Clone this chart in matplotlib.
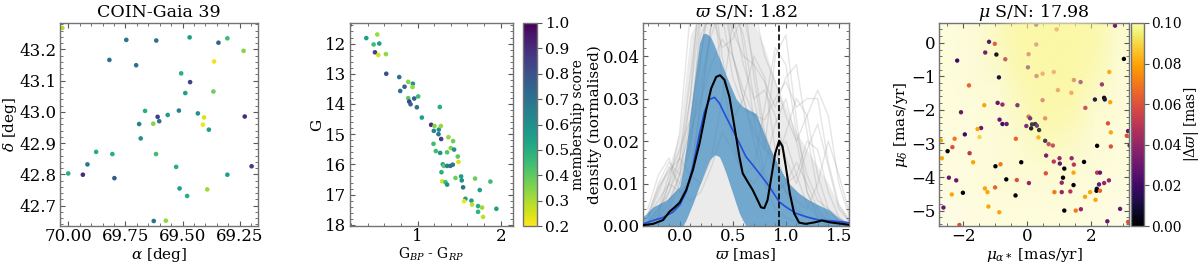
import numpy as np
import matplotlib
matplotlib.use("Agg")
import matplotlib.pyplot as plt
from matplotlib.ticker import AutoMinorLocator, FormatStrFormatter, MultipleLocator

# ---------------- data ----------------
# panel 1: sky positions of members + membership score
ra = [70.026, 69.746, 69.615, 69.469, 69.343, 69.304, 69.233, 69.820, 69.703, 69.362,
      69.506, 69.467, 69.488, 69.365, 69.664, 69.516, 69.565, 69.433, 69.406, 69.609,
      69.602, 69.628, 69.690, 69.411, 69.385, 69.228, 69.683, 69.878, 69.807, 69.616,
      69.916, 70.000, 69.936, 69.798, 69.528, 69.198, 69.304, 69.513, 69.480, 69.392,
      69.626, 69.573]
dec = [43.268, 43.230, 43.228, 43.238, 43.221, 43.235, 43.195, 43.166, 43.149, 43.161,
       43.123, 43.095, 43.060, 43.065, 43.003, 43.004, 42.990, 42.995, 42.982, 42.984,
       42.970, 42.962, 42.961, 42.959, 42.943, 42.985, 42.915, 42.872, 42.865, 42.865,
       42.832, 42.803, 42.799, 42.788, 42.824, 42.826, 42.799, 42.755, 42.731, 42.752,
       42.651, 42.652]
score_sky = [0.30, 0.70, 0.70, 0.55, 0.75, 0.45, 0.35, 0.70, 0.70, 0.22,
             0.50, 0.85, 0.55, 0.38, 0.50, 0.65, 0.55, 0.60, 0.25, 0.85,
             0.70, 0.35, 0.65, 0.22, 0.55, 0.90, 0.60, 0.50, 0.50, 0.45,
             0.68, 0.50, 0.90, 0.78, 0.50, 0.85, 0.55, 0.55, 0.50, 0.32,
             0.70, 0.33]

# panel 2: colour-magnitude diagram
bp_rp = [0.384, 0.516, 0.472, 0.540, 0.488, 0.528, 0.620, 0.624, 0.780, 0.844,
         0.792, 0.888, 0.944, 0.940, 1.008, 0.888, 0.900, 0.916, 0.960, 0.992,
         1.268, 1.052, 1.164, 1.196, 1.204, 1.256, 1.280, 1.252, 1.284, 1.372,
         1.428, 1.400, 1.440, 1.192, 1.220, 1.272, 1.356, 1.484, 1.492, 1.304,
         1.316, 1.356, 1.396, 1.424, 1.288, 1.524, 1.532, 1.456, 1.296, 1.336,
         1.356, 1.548, 1.692, 1.876, 1.748, 1.576, 1.560, 1.648, 1.656, 1.728,
         1.728, 1.776, 1.788, 1.948]
gmag = [11.82, 11.70, 12.03, 12.00, 12.29, 12.38, 12.35, 13.00, 13.11, 13.43,
        13.57, 13.27, 13.33, 13.44, 13.75, 13.81, 13.92, 14.01, 13.82, 14.11,
        14.10, 14.45, 14.69, 14.89, 14.73, 14.85, 14.73, 15.00, 15.16, 15.10,
        15.23, 15.46, 15.51, 15.32, 15.56, 15.62, 15.60, 15.74, 15.92, 16.00,
        16.05, 16.05, 16.05, 16.01, 16.26, 16.40, 16.53, 16.45, 16.56, 16.59,
        16.67, 16.76, 16.47, 16.57, 16.85, 17.14, 17.22, 17.20, 17.33, 17.38,
        17.57, 17.43, 17.74, 17.47]
score_cmd = [0.55, 0.32, 0.45, 0.55, 0.85, 0.25, 0.33, 0.80, 0.70, 0.75,
             0.70, 0.35, 0.60, 0.33, 0.45, 0.40, 0.85, 0.75, 0.75, 0.70,
             0.50, 0.55, 0.90, 0.65, 0.35, 0.60, 0.33, 0.68, 0.85, 0.33,
             0.38, 0.35, 0.60, 0.45, 0.45, 0.60, 0.42, 0.40, 0.25, 0.55,
             0.40, 0.65, 0.70, 0.68, 0.50, 0.55, 0.60, 0.38, 0.25, 0.45,
             0.60, 0.70, 0.38, 0.45, 0.55, 0.55, 0.22, 0.55, 0.28, 0.50,
             0.48, 0.32, 0.28, 0.55]

# panel 3: parallax density
plx_obs_x = [-0.344, -0.25, -0.156, -0.094, -0.047, 0.0, 0.0625, 0.125, 0.1875, 0.25,
             0.297, 0.344, 0.381, 0.422, 0.469, 0.516, 0.5625, 0.594, 0.641, 0.6875,
             0.734, 0.766, 0.797, 0.828, 0.859, 0.90, 0.9375, 0.969, 1.0, 1.0375,
             1.078, 1.125, 1.1875, 1.28, 1.34, 1.406, 1.5, 1.59]
plx_obs_y = [0.0002, 0.0005, 0.0014, 0.0034, 0.0044, 0.0055, 0.0085, 0.0132, 0.0195, 0.0273,
             0.0324, 0.0351, 0.0355, 0.0344, 0.0304, 0.0234, 0.0163, 0.0124, 0.0104, 0.0085,
             0.0061, 0.0044, 0.0042, 0.0061, 0.0108, 0.0171, 0.0201, 0.0187, 0.0140, 0.0077,
             0.0030, 0.0008, 0.0005, 0.0009, 0.0013, 0.0009, 0.0006, 0.0003]
plx_mean_x = [-0.344, -0.25, -0.156, -0.0625, 0.0, 0.0625, 0.125, 0.1875, 0.234, 0.281,
              0.328, 0.375, 0.4375, 0.5, 0.5625, 0.625, 0.6875, 0.75, 0.8125, 0.875,
              0.9375, 1.0, 1.094, 1.1875, 1.3125, 1.4375, 1.59]
plx_mean_y = [0.0005, 0.0013, 0.0020, 0.0033, 0.0049, 0.0081, 0.0140, 0.0218, 0.0269, 0.0298,
              0.0303, 0.0289, 0.0257, 0.0226, 0.0195, 0.0163, 0.0144, 0.0124, 0.0104, 0.0081,
              0.0057, 0.0045, 0.0030, 0.0022, 0.0014, 0.0012, 0.0008]
band_x = [-0.344, -0.25, -0.125, 0.0, 0.031, 0.0625, 0.125, 0.1875, 0.219, 0.25,
          0.281, 0.297, 0.328, 0.344, 0.375, 0.406, 0.4375, 0.469, 0.5, 0.531,
          0.5625, 0.594, 0.625, 0.656, 0.719, 0.781, 0.844, 0.906, 0.969, 1.031,
          1.125, 1.219, 1.3125, 1.406, 1.5, 1.59]
band_hi = [0.0022, 0.0045, 0.0061, 0.0093, 0.0130, 0.0187, 0.0312, 0.0430, 0.0453, 0.0453,
           0.0448, 0.0442, 0.0425, 0.0414, 0.0395, 0.0375, 0.0355, 0.0336, 0.0318, 0.0300,
           0.0290, 0.0281, 0.0277, 0.0273, 0.0265, 0.0226, 0.0187, 0.0155, 0.0124, 0.0100,
           0.0077, 0.0061, 0.0049, 0.0038, 0.0018, 0.0008]
band_lo = [0.0, 0.0, 0.0, 0.0, 0.0, 0.0015, 0.0053, 0.0095, 0.0116, 0.0136,
           0.0155, 0.0160, 0.0167, 0.0167, 0.0163, 0.0145, 0.0124, 0.0100, 0.0077, 0.0053,
           0.0030, 0.0014, 0.0, 0.0, 0.0, 0.0, 0.0, 0.0, 0.0, 0.0,
           0.0, 0.0, 0.0, 0.0, 0.0, 0.0]
plx_cluster = 0.94

# bootstrap densities (grey), sampled on a 0.1 mas grid
boot_x = [-0.3, -0.2, -0.1, 0.0, 0.1, 0.2, 0.3, 0.4, 0.5, 0.6,
          0.7, 0.8, 0.9, 1.0, 1.1, 1.2, 1.3, 1.4, 1.5, 1.6]
boot_haze = [0.003, 0.010, 0.014, 0.022, 0.045, 0.050, 0.050, 0.050, 0.050, 0.050,
             0.048, 0.042, 0.034, 0.028, 0.022, 0.018, 0.014, 0.010, 0.005, 0.002]
boot_curves = [
    [0.002, 0.008, 0.014, 0.010, 0.018, 0.040, 0.060, 0.055, 0.040, 0.030, 0.020, 0.010, 0.004, 0.002, 0.001, 0, 0, 0, 0, 0],
    [0.001, 0.004, 0.008, 0.016, 0.035, 0.055, 0.065, 0.050, 0.035, 0.028, 0.026, 0.022, 0.015, 0.008, 0.004, 0.002, 0.001, 0, 0, 0],
    [0, 0.002, 0.006, 0.012, 0.025, 0.045, 0.050, 0.048, 0.052, 0.045, 0.030, 0.018, 0.016, 0.020, 0.012, 0.005, 0.002, 0.001, 0, 0],
    [0.004, 0.012, 0.016, 0.008, 0.010, 0.030, 0.048, 0.060, 0.058, 0.042, 0.025, 0.012, 0.008, 0.010, 0.015, 0.010, 0.004, 0.001, 0, 0],
    [0, 0.001, 0.004, 0.010, 0.020, 0.034, 0.045, 0.052, 0.046, 0.040, 0.038, 0.034, 0.028, 0.035, 0.038, 0.022, 0.008, 0.002, 0, 0],
    [0.001, 0.003, 0.010, 0.022, 0.050, 0.070, 0.058, 0.035, 0.020, 0.012, 0.010, 0.014, 0.024, 0.030, 0.020, 0.008, 0.003, 0.001, 0, 0],
    [0, 0.002, 0.008, 0.014, 0.022, 0.030, 0.038, 0.044, 0.040, 0.032, 0.026, 0.025, 0.030, 0.034, 0.028, 0.030, 0.030, 0.015, 0.005, 0.001],
    [0.002, 0.010, 0.015, 0.012, 0.020, 0.050, 0.060, 0.040, 0.025, 0.030, 0.040, 0.035, 0.018, 0.010, 0.012, 0.020, 0.018, 0.008, 0.002, 0],
    [0, 0.002, 0.005, 0.012, 0.030, 0.060, 0.075, 0.060, 0.040, 0.030, 0.022, 0.018, 0.040, 0.045, 0.025, 0.008, 0.002, 0, 0, 0],
    [0.001, 0.004, 0.012, 0.018, 0.025, 0.040, 0.055, 0.060, 0.050, 0.038, 0.030, 0.032, 0.026, 0.016, 0.010, 0.018, 0.024, 0.014, 0.004, 0.001],
    [0, 0.001, 0.003, 0.006, 0.012, 0.028, 0.048, 0.065, 0.070, 0.055, 0.035, 0.020, 0.012, 0.008, 0.006, 0.004, 0.010, 0.020, 0.012, 0.003],
    [0.003, 0.009, 0.013, 0.016, 0.030, 0.052, 0.050, 0.042, 0.044, 0.050, 0.038, 0.022, 0.014, 0.022, 0.030, 0.026, 0.012, 0.004, 0.001, 0],
    [0, 0.003, 0.010, 0.016, 0.012, 0.010, 0.016, 0.030, 0.048, 0.058, 0.052, 0.040, 0.034, 0.026, 0.020, 0.026, 0.032, 0.026, 0.010, 0.002],
    [0.002, 0.006, 0.010, 0.008, 0.006, 0.008, 0.014, 0.022, 0.018, 0.012, 0.014, 0.028, 0.042, 0.038, 0.022, 0.012, 0.006, 0.004, 0.002, 0],
]

# panel 4: proper motions of field stars with |d plx| colour
pmra = [0.29, 0.93, 2.76, -1.19, -1.01, -1.31, -0.96, -0.68, -2.19, 0.29,
        0.05, 3.04, 0.03, 0.49, 0.84, -0.88, 0.30, 1.47, 1.68, 2.35,
        2.58, -1.82, 0.97, 1.39, 2.13, 2.42, 2.44, 2.61, -0.92, -0.77,
        -2.07, -0.30, -1.34, 1.83, 0.49, 0.05, 0.10, 0.16, 0.26, 0.31,
        -0.02, 0.13, -0.86, -0.77, -0.64, 0.57, -1.44, -1.95, -1.55, 0.38,
        2.54, 2.63, 3.13, 3.17, -1.49, -2.27, -2.70, -2.34, -0.35, 0.36,
        0.57, 0.68, 0.81, 2.20, 2.63, 3.22, -2.49, -1.80, -2.67, 0.60,
        0.84, 1.02, 1.40, 1.47, 1.79, 1.03, -1.69, -0.83, -0.18, -0.99,
        2.2, 0.59, 1.17, 1.13, 1.46, 2.29, 2.57, -2.45, -2.22, -0.65,
        -0.32, 0.06, 1.09, 1.46, 2.26, 2.42, -1.32, -1.00, 0.86, 1.09,
        1.36, 1.98, 2.19, 2.18, 2.29, -1.24, -2.01, -2.36, -0.36, 1.82,
        2.15, -1.21, -0.87, 1.17, 1.53, 1.69, 2.92, -2.62, 2.52, 3.17,
        -2.12]
pmde = [0.54, 0.40, 0.51, 0.03, -0.03, -0.29, -0.35, -0.49, -0.53, -0.05,
        -0.34, -0.48, -0.73, -0.92, -0.87, -1.03, -0.99, -1.11, -1.17, -1.24,
        -0.87, -1.27, -1.41, -1.49, -1.69, -1.64, -1.69, -1.77, -1.79, -1.84,
        -2.07, -1.86, -1.86, -1.94, -1.71, -2.20, -2.25, -2.43, -2.42, -2.47,
        -2.48, -2.55, -2.29, -2.42, -2.42, -2.25, -2.54, -2.73, -2.57, -2.60,
        -2.40, -2.67, -2.77, -2.63, -2.81, -2.86, -2.91, -3.11, -2.86, -2.82,
        -2.92, -3.02, -3.06, -3.07, -3.09, -3.06, -3.23, -3.29, -3.44, -3.36,
        -3.54, -3.44, -3.44, -3.63, -3.55, -3.60, -3.56, -3.62, -3.56, -3.68,
        -3.87, -3.89, -3.75, -4.02, -3.87, -3.87, -4.10, -4.02, -4.10, -4.07,
        -4.09, -4.18, -4.17, -4.24, -4.22, -4.18, -4.34, -4.31, -4.45, -4.45,
        -4.43, -4.45, -4.35, -4.41, -4.41, -4.45, -4.47, -4.52, -4.55, -4.59,
        -4.68, -4.88, -5.05, -5.00, -5.00, -4.96, -4.95, -4.91, -5.32, -5.34,
        -5.43]
dplx = [0.03, 0.06, 0.03, 0.02, 0.06, 0.03, 0.00, 0.05, 0.02, 0.05,
        0.05, 0.00, 0.03, 0.06, 0.06, 0.01, 0.05, 0.05, 0.03, 0.04,
        0.08, 0.065, 0.06, 0.065, 0.01, 0.00, 0.01, 0.08, 0.03, 0.04,
        0.03, 0.03, 0.08, 0.05, 0.05, 0.06, 0.02, 0.01, 0.00, 0.02,
        0.03, 0.00, 0.03, 0.02, 0.03, 0.06, 0.03, 0.02, 0.08, 0.00,
        0.06, 0.08, 0.06, 0.03, 0.09, 0.07, 0.08, 0.06, 0.065, 0.08,
        0.01, 0.05, 0.05, 0.00, 0.06, 0.03, 0.00, 0.05, 0.08, 0.03,
        0.05, 0.04, 0.04, 0.05, 0.00, 0.03, 0.08, 0.07, 0.00, 0.00,
        0.05, 0.06, 0.00, 0.00, 0.08, 0.03, 0.04, 0.03, 0.03, 0.00,
        0.06, 0.04, 0.04, 0.00, 0.03, 0.04, 0.08, 0.065, 0.07, 0.04,
        0.05, 0.08, 0.01, 0.00, 0.065, 0.08, 0.00, 0.08, 0.00, 0.08,
        0.08, 0.08, 0.08, 0.00, 0.07, 0.04, 0.03, 0.03, 0.03, 0.06,
        0.06]
# coverage of the faint field-star cloud (rows top->bottom, cols left->right)
field_cover = np.array([
    [0.40, 0.45, 0.65, 0.90, 0.95, 0.95, 0.85, 0.55],
    [0.40, 0.45, 0.60, 0.85, 0.95, 0.95, 0.80, 0.50],
    [0.40, 0.45, 0.50, 0.75, 0.90, 0.90, 0.65, 0.45],
    [0.40, 0.40, 0.45, 0.65, 0.85, 0.80, 0.55, 0.45],
    [0.35, 0.40, 0.45, 0.55, 0.70, 0.65, 0.50, 0.40],
    [0.35, 0.40, 0.45, 0.50, 0.55, 0.50, 0.45, 0.40],
    [0.35, 0.40, 0.45, 0.45, 0.45, 0.45, 0.40, 0.35],
    [0.30, 0.35, 0.40, 0.40, 0.40, 0.40, 0.35, 0.30],
])

# ---------------- style ----------------
plt.rcParams.update({
    "font.family": "DejaVu Serif",
    "mathtext.fontset": "dejavuserif",
    "font.size": 11,
    "axes.titlesize": 12.5,
    "axes.labelsize": 11,
    "xtick.labelsize": 12,
    "ytick.labelsize": 12,
    "axes.labelpad": 0.5,
    "axes.titlepad": 4,
    "xtick.major.pad": 1.5,
    "ytick.major.pad": 2.5,
    "axes.edgecolor": "0.45",
    "axes.linewidth": 1.0,
    "xtick.direction": "in",
    "ytick.direction": "in",
    "xtick.top": True,
    "ytick.right": True,
    "xtick.minor.visible": True,
    "ytick.minor.visible": True,
    "xtick.color": "0.35",
    "ytick.color": "0.35",
    "xtick.labelcolor": "black",
    "ytick.labelcolor": "black",
})


def fx(px):
    return px / 1200


def fy(top, bottom):
    return (264 - bottom) / 264, (bottom - top) / 264


fig = plt.figure(figsize=(12, 2.64), dpi=100)
b, h = fy(23, 226)

# panel 1: sky
ax1 = fig.add_axes([fx(60), b, fx(198), h])
ax1.scatter(ra, dec, c=score_sky, cmap="viridis_r", vmin=0.2, vmax=1.0, s=11, lw=0)
ax1.set_xlim(70.036, 69.17)
ax1.set_ylim(42.635, 43.284)
ax1.xaxis.set_major_locator(MultipleLocator(0.25))
ax1.xaxis.set_major_formatter(FormatStrFormatter("%.2f"))
ax1.yaxis.set_major_locator(MultipleLocator(0.1))
ax1.yaxis.set_major_formatter(FormatStrFormatter("%.1f"))
ax1.xaxis.set_minor_locator(AutoMinorLocator(5))
ax1.yaxis.set_minor_locator(AutoMinorLocator(5))
ax1.set_xlabel(r"$\alpha$ [deg]")
ax1.set_ylabel(r"$\delta$ [deg]")
ax1.set_title("COIN-Gaia 39")

# panel 2: CMD
ax2 = fig.add_axes([fx(350), b, fx(163), h])
sc2 = ax2.scatter(bp_rp, gmag, c=score_cmd, cmap="viridis_r", vmin=0.2, vmax=1.0, s=11, lw=0)
ax2.set_xlim(0.188, 2.148)
ax2.set_ylim(18.04, 11.32)
ax2.xaxis.set_major_locator(MultipleLocator(1))
ax2.xaxis.set_minor_locator(AutoMinorLocator(5))
ax2.yaxis.set_major_locator(MultipleLocator(1))
ax2.yaxis.set_minor_locator(AutoMinorLocator(5))
ax2.set_xlabel(r"G$_{BP}$ - G$_{RP}$", fontsize=10)
ax2.set_ylabel("G")
cax2 = fig.add_axes([fx(523), b, fx(14), h])
cb2 = fig.colorbar(sc2, cax=cax2)
cb2.outline.set_edgecolor("0.45")
cb2.set_ticks(np.arange(0.2, 1.01, 0.1))
cb2.ax.yaxis.set_major_formatter(FormatStrFormatter("%.1f"))
cb2.ax.tick_params(which="both", direction="out", left=False, right=True, pad=2, labelsize=11)
cb2.ax.minorticks_off()
cb2.set_label("membership score", fontsize=10)
cb2.ax.yaxis.set_label_coords(3.45, 0.5)

# panel 3: parallax
ax3 = fig.add_axes([fx(643), b, fx(206), h])
ax3.fill_between(boot_x, 0, boot_haze, color="0.87", alpha=0.6, lw=0, zorder=1)
for curve in boot_curves:
    ax3.plot(boot_x, curve, color="0.6", alpha=0.25, lw=1.0, zorder=1)
ax3.fill_between(band_x, band_lo, band_hi, color="#3f8ac2", alpha=0.7, lw=0, zorder=2)
ax3.plot(plx_mean_x, plx_mean_y, color="#2350d8", lw=1.2, zorder=3)
ax3.plot(plx_obs_x, plx_obs_y, color="black", lw=1.5, zorder=4)
ax3.axvline(plx_cluster, color="black", ls="--", lw=1.2, zorder=5)
ax3.set_xlim(-0.345, 1.595)
ax3.set_ylim(0, 0.0478)
ax3.xaxis.set_major_locator(MultipleLocator(0.5))
ax3.xaxis.set_major_formatter(FormatStrFormatter("%.1f"))
ax3.xaxis.set_minor_locator(AutoMinorLocator(5))
ax3.yaxis.set_major_locator(MultipleLocator(0.01))
ax3.yaxis.set_major_formatter(FormatStrFormatter("%.2f"))
ax3.yaxis.set_minor_locator(AutoMinorLocator(5))
ax3.set_xlabel(r"$\varpi$ [mas]")
ax3.set_ylabel("density (normalised)")
ax3.set_title(r"$\varpi$ S/N: 1.82")

# panel 4: proper motions
ax4 = fig.add_axes([fx(939), b, fx(190), h])
pm_ext = (-2.76, 3.2, -5.46, 0.59)
cloud = np.zeros(field_cover.shape + (4,))
cloud[..., :3] = matplotlib.colors.to_rgb("#fbf8a6")
cloud[..., 3] = field_cover
ax4.imshow(cloud, extent=pm_ext, aspect="auto", interpolation="bilinear", zorder=1)
sc4 = ax4.scatter(pmra, pmde, c=dplx, cmap="inferno", vmin=0.0, vmax=0.1, s=10, lw=0, zorder=2)
cover_top = cloud.copy()
cover_top[..., 3] = np.clip((field_cover - 0.55) * 1.6, 0, 0.75)
ax4.imshow(cover_top, extent=pm_ext, aspect="auto", interpolation="bilinear", zorder=3)
ax4.set_xlim(pm_ext[0], pm_ext[1])
ax4.set_ylim(pm_ext[2], pm_ext[3])
ax4.xaxis.set_major_locator(MultipleLocator(2))
ax4.xaxis.set_minor_locator(AutoMinorLocator(4))
ax4.yaxis.set_major_locator(MultipleLocator(1))
ax4.yaxis.set_minor_locator(AutoMinorLocator(5))
ax4.set_xlabel(r"$\mu_{\alpha*}$ [mas/yr]")
ax4.set_ylabel(r"$\mu_\delta$ [mas/yr]")
ax4.set_title(r"$\mu$ S/N: 17.98")
cax4 = fig.add_axes([fx(1131), b, fx(13), h])
cb4 = fig.colorbar(sc4, cax=cax4)
cb4.outline.set_edgecolor("0.45")
cb4.set_ticks(np.arange(0, 0.101, 0.02))
cb4.ax.yaxis.set_major_formatter(FormatStrFormatter("%.2f"))
cb4.ax.tick_params(which="both", direction="out", left=False, right=True, pad=1.5, labelsize=10)
cb4.ax.minorticks_off()
cb4.set_label(r"$|\Delta\varpi|$ [mas]", fontsize=10)
cb4.ax.yaxis.set_label_coords(3.95, 0.5)

fig.savefig("out.png", dpi=100)
